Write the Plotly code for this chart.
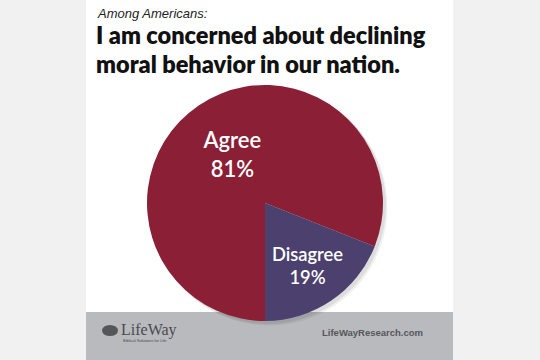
import plotly.graph_objects as go

labels = ["Agree", "Disagree"]
values = [81, 19]
colors = ["#8a1f36", "#4b406e"]
title_lines = ["I am concerned about declining", "moral behavior in our nation."]

W, H = 540, 360
cx, cy, r = 265, 203, 118

def dom(cx, cy, r):
    return dict(x=[(cx - r) / W, (cx + r) / W], y=[(H - cy - r) / H, (H - cy + r) / H])

fig = go.Figure()
# soft shadow
for off, a in [(4, 0.06), (2.5, 0.08)]:
    fig.add_trace(go.Pie(labels=labels, values=values, sort=False, direction="clockwise",
                         rotation=180, domain=dom(cx + off, cy + off, r + 0.5),
                         marker=dict(colors=[f"rgba(0,0,0,{a})"] * 2, line=dict(width=0)),
                         textinfo="none", hoverinfo="skip", showlegend=False))
fig.add_trace(go.Pie(
    labels=labels, values=values, sort=False, direction="clockwise", rotation=180,
    domain=dom(cx, cy, r),
    marker=dict(colors=colors, line=dict(width=0)),
    texttemplate="%{label}<br>%{value}%", textposition="inside", insidetextorientation="horizontal",
    textfont=dict(family="Lato", size=22, color="white", weight=600),
    showlegend=False,
))

shapes = [
    dict(type="rect", xref="paper", yref="paper", x0=86 / W, x1=453 / W, y0=0, y1=1,
         fillcolor="white", line=dict(width=0), layer="below"),
    dict(type="rect", xref="paper", yref="paper", x0=86 / W, x1=453 / W, y0=0, y1=(H - 312) / H,
         fillcolor="#b9babe", line=dict(width=0), layer="below"),
    dict(type="circle", xref="paper", yref="paper", x0=102 / W, x1=118 / W,
         y0=(H - 336) / H, y1=(H - 325) / H, fillcolor="#55565a", line=dict(width=0), layer="below"),
]

def ann(text, x, y, size, family, color="#111", xanchor="left", weight="normal", **kw):
    return dict(text=text, x=x / W, y=(H - y) / H, xref="paper", yref="paper", showarrow=False,
                xanchor=xanchor, yanchor="middle",
                font=dict(size=size, family=family, color=color, weight=weight), **kw)

title_html = "<br>".join(f"<span style='font-size:23.5px'>{t}</span>" for t in title_lines)

annotations = [
    ann("<i>Among Americans:</i>", 95, 14, 13, "Liberation Sans", "#222"),
    ann(title_html, 94, 50, 22.4, "Lato", weight=800, align="left"),
    ann("LifeWay", 119, 330, 16, "Liberation Serif", "#4a4b4f"),
    ann("Biblical Solutions for Life", 121, 340, 4, "Liberation Sans", "#4a4b4f"),
    ann("<b>LifeWayResearch.com</b>", 425, 332, 9.5, "Liberation Sans", "#55565a", xanchor="right"),
]

fig.update_layout(
    width=W, height=H, margin=dict(l=0, r=0, t=0, b=0),
    paper_bgcolor="#f1f1f1", plot_bgcolor="#f1f1f1",
    shapes=shapes, annotations=annotations,
)
fig.write_html("out.html", config={"displayModeBar": False},
               post_script="document.body.style.margin='0';document.body.style.overflow='hidden';")
